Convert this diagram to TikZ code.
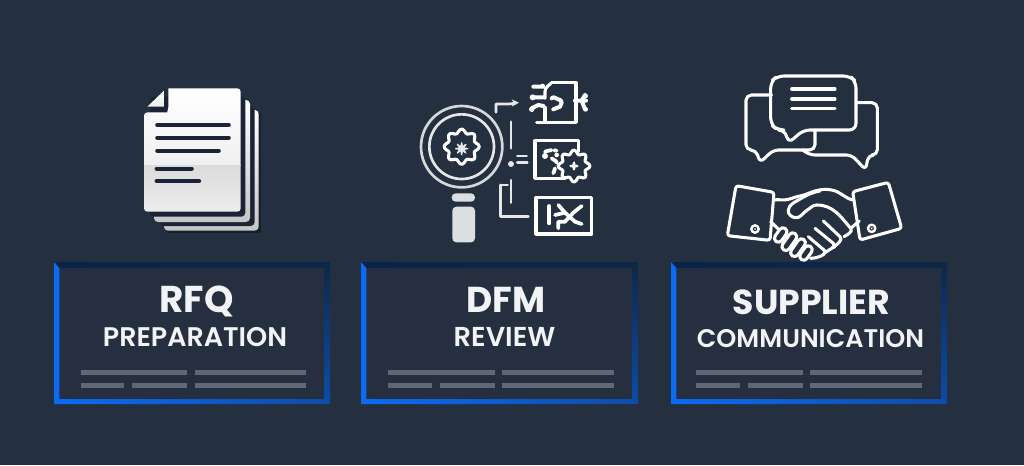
\documentclass[tikz,border=0pt]{standalone}
\usepackage{fontspec}
\setmainfont{Poppins}
\newfontfamily\headfont{Poppins Bold}
\newfontfamily\subfont{Poppins SemiBold}
\definecolor{bgc}{HTML}{24303F}
\definecolor{cardc}{HTML}{252F3F}
\definecolor{inkc}{HTML}{1A2436}
\definecolor{linec}{HTML}{5F6875}
\definecolor{whitec}{HTML}{F2F3F5}
\definecolor{iconc}{HTML}{E4E6E8}
\definecolor{blueA}{HTML}{0B6BF5}
\definecolor{blueB}{HTML}{0E4CA8}
\definecolor{navyA}{HTML}{0A2348}
\definecolor{navyB}{HTML}{0F2747}
\tikzset{
 head/.style={font=\headfont\fontsize{#1}{#1}\selectfont,text=whitec,anchor=base,inner sep=0pt},
 sub/.style={font=\subfont\fontsize{#1}{#1}\selectfont,text=whitec,anchor=base,inner sep=0pt},
 barline/.style={fill=linec,draw=none},
 stroke/.style={draw=white,line width=2.3pt,line join=round,line cap=round},
 thin stroke/.style={draw=iconc,line width=2pt,line join=round,line cap=round},
 ink/.style={draw=inkc,line width=3.2pt,line cap=round},
 zoomed/.style={x=0.25pt,y=-0.25pt}
}
% #1 left, #2 right, #3 first bar x
\newcommand{\cardbox}[3]{%
 \pgfmathsetmacro{\xl}{#1}\pgfmathsetmacro{\xr}{#2}%
 \pgfmathsetmacro{\xli}{#1+5.3}\pgfmathsetmacro{\xri}{#2-6}%
 \fill[cardc] (\xl,262) rectangle (\xr,404);
 \shade[left color=navyA,right color=navyB] (\xl,262) -- (\xr,262) -- (\xri,268) -- (\xli,268) -- cycle;
 \shade[top color=navyB,middle color=navyB!75!blueB,bottom color=blueB] (\xr,262) -- (\xr,404) -- (\xri,399) -- (\xri,268) -- cycle;
 \shade[left color=blueA,right color=blueB] (\xl,404) -- (\xr,404) -- (\xri,399) -- (\xli,399) -- cycle;
 \fill[blueA] (\xl,262) -- (\xli,268) -- (\xli,399) -- (\xl,404) -- cycle;
 \pgfmathsetmacro{\ba}{#3}\pgfmathsetmacro{\bb}{#3+106.5}\pgfmathsetmacro{\bc}{#3+114}\pgfmathsetmacro{\bd}{#3+225.5}%
 \pgfmathsetmacro{\be}{#3+43.5}\pgfmathsetmacro{\bf}{#3+51.5}%
 \fill[barline] (\ba,369.5) rectangle (\bb,374.5);
 \fill[barline] (\bc,369.5) rectangle (\bd,374.5);
 \fill[barline] (\ba,382.5) rectangle (\be,387.5);
 \fill[barline] (\bf,382.5) rectangle (\bb,387.5);
 \fill[barline] (\bc,382.5) rectangle (\bd,387.5);
}
\begin{document}
\begin{tikzpicture}[x=0.75pt,y=-0.75pt]
\useasboundingbox (0,0) rectangle (1024,465);
\fill[bgc] (0,0) rectangle (1024,465);

% cards
\cardbox{54}{330}{80.5}
\cardbox{361}{638}{388}
\cardbox{671}{947}{696}
\node[head=28] (rfq) at (196.5,312) {RFQ};
\node[sub=20.2] (prep) at (195,346.5) {PREPARATION};
\node[head=27] (dfm) at (506,312) {DFM};
\node[sub=20.5] (rev) at (504.5,346.5) {REVIEW};
\node[head=26] (sup) at (811.5,314) {SUPPLIER};
\node[sub=19.1] (com) at (810.5,347) {COMMUNICATION};

% ---- document icon
\begin{scope}[shift={(120,70)},zoomed]
 \fill[black!40!inkc,opacity=.6] (140,130) rectangle (424,490);
 \shade[top color=white,bottom color=gray!45!white,rounded corners=3pt] (132,120) rectangle (416,482);
 \fill[inkc,rounded corners=3pt] (120,110) rectangle (404,468);
 \shade[top color=white,bottom color=gray!45!white,rounded corners=3pt] (102,90) rectangle (390,456);
 \fill[inkc,rounded corners=3pt] (90,80) rectangle (376,440);
 \begin{scope}
  \clip[rounded corners=2.5pt] (145,55) -- (362,55) -- (362,425) -- (72,425) -- (72,127) -- (132,127) [sharp corners] to[out=0,in=-90] (145,112) -- cycle;
  \shade[top color=white,bottom color=white!88!gray] (60,50) rectangle (370,285);
  \shade[top color=white!72!gray,bottom color=white!86!gray] (60,285) rectangle (370,430);
 \end{scope}
 \shade[top color=white,bottom color=white!85!gray] (82,110) -- (132,62) -- (132,110) -- cycle;
 \foreach \a/\b/\c in {112/326/165,112/326/203,112/296/242,110/215/296,110/237/333}
   \draw[ink] (\a,\c) -- (\b,\c);
\end{scope}

% ---- magnifier and diagrams
\begin{scope}[shift={(410,80)},zoomed]
 \draw[thin stroke,draw=iconc!85!gray] (155,200) circle[radius=122];
 \draw[thin stroke,draw=iconc] (155,200) circle[radius=97];
 \draw[stroke] plot[smooth cycle,samples=49,domain=0:352.5,variable=\t] ({155+(47+6*cos(8*\t))*cos(\t)},{200+(47+6*cos(8*\t))*sin(\t)});
 \fill[iconc] plot[samples=33,domain=0:348.75,variable=\t] ({155+(15+6*cos(8*\t))*cos(\t)},{206+(15+6*cos(8*\t))*sin(\t)}) -- cycle;
 \fill[iconc!92!gray,rounded corners=3pt] (125,340) rectangle (195,365);
 \fill[iconc!92!gray,rounded corners=3pt] (127,380) rectangle (195,487);
 % connectors
 \draw[thin stroke] (258,97) -- (258,72) -- (295,72) to[bend left=8] (315,70);
 \fill[iconc] (305,58) -- (327,68) -- (305,80) -- (311,68) -- cycle;
 \draw[thin stroke] (303,125) -- (303,205);
 \fill[iconc] (303,252) circle[radius=9];
 \draw[thin stroke] (322,228) -- (350,228);
 \draw[thin stroke] (322,247) -- (352,247);
 \draw[thin stroke] (303,300) -- (303,368);
 \draw[thin stroke] (272,315) -- (293,315);
 \draw[thin stroke] (272,315) -- (272,410) -- (355,410);
 % chip
 \draw[stroke] (425,8) -- (498,8) -- (498,127) -- (380,127);
 \draw[stroke] (405,127) -- (405,82);
 \draw[stroke] (405,55) -- (405,35) to[out=90,in=-135] (425,8);
 \draw[stroke,line width=3pt] (370,20) -- (400,20) (372,52) -- (400,52) (365,85) -- (385,75) -- (400,78);
 \fill[white] (368,52) circle[radius=9] (365,88) circle[radius=8] (398,18) circle[radius=7];
 \draw[stroke,line width=3pt] (425,55) to[out=60,in=170] (450,60) to[out=-20,in=45] (450,80) -- (430,88);
 \draw[stroke,line width=3pt] (495,62) -- (528,62) (515,62) -- (525,45) (515,62) -- (525,88);
 \fill[white] (527,48) circle[radius=7] (527,88) circle[radius=7];
 % board with gear
 \draw[stroke] (460,182) -- (375,182) -- (375,295) -- (465,295);
 \draw[stroke] (460,182) -- (505,182) -- (505,215);
 \draw[stroke,line width=2.8pt,dash pattern=on 5pt off 2pt] (405,215) to[bend left=15] (440,212) (425,235) to[bend left=20] (445,255) (435,265) -- (430,280);
 \fill[white] (405,228) circle[radius=9] (440,225) circle[radius=7];
 \draw[stroke,fill=bgc] plot[smooth cycle,samples=49,domain=0:352.5,variable=\t] ({492+(42+6*cos(8*\t))*cos(\t)},{258+(42+6*cos(8*\t))*sin(\t)});
 \fill[white] plot[samples=17,domain=0:337.5,variable=\t] ({492+(10+4*cos(4*\t))*cos(\t)},{258+(10+4*cos(4*\t))*sin(\t)}) -- cycle;
 % circuit
 \draw[stroke] (378,352) rectangle (545,462);
 \draw[stroke,line width=2.8pt] (418,378) -- (418,430);
 \draw[stroke,line width=2.8pt] (445,375) -- (465,398) -- (495,425) -- (515,432);
 \draw[stroke,line width=2.8pt] (435,405) -- (465,398);
 \draw[stroke,line width=2.8pt] (515,378) -- (490,398) -- (465,425) -- (445,425) -- (445,445);
\end{scope}

% ---- speech bubbles
\begin{scope}[shift={(720,65)},zoomed]
 \draw[stroke,rounded corners=4pt] (155,90) -- (78,90) -- (78,255) -- (108,255) -- (120,293) -- (160,255) -- (285,255) -- (285,197);
 \draw[stroke,rounded corners=4pt] (408,113) -- (472,113) -- (472,270) -- (445,270) -- (437,315) -- (395,270) -- (270,270) -- (248,255);
 \draw[stroke,rounded corners=5pt] (172,33) -- (390,33) -- (408,50) -- (408,195) -- (250,195) -- (205,235) -- (195,195) -- (172,195) -- (152,178) -- (152,50) -- cycle;
 \foreach \c in {72,102,130} \draw[stroke] (215,\c) -- (345,\c);
 % handshake
 \draw[stroke,rounded corners=2pt] (48,362) -- (162,382) -- (150,526) -- (22,512) -- cycle;
 \draw[stroke,rounded corners=2pt] (398,380) -- (505,352) -- (545,490) -- (420,525) -- cycle;
 \draw[stroke,line width=1.8pt] (105,492) circle[radius=11];
 \fill[white] (105,492) circle[radius=3];
 \draw[stroke,line width=1.8pt] (455,490) circle[radius=11];
 \fill[white] (455,490) circle[radius=3];
 \draw[stroke] (160,405) to[out=10,in=195] (205,403) to[out=15,in=190] (240,393) to[out=10,in=195] (285,378) to[out=15,in=170] (335,375) to[out=-10,in=165] (398,405);
 \draw[stroke] (300,378) to[out=190,in=30] (235,405) to[out=210,in=80] (205,435) to[out=-100,in=170] (225,458) to[out=-10,in=210] (262,435) to[out=30,in=180] (290,420) to[out=0,in=130] (392,490);
 \draw[stroke] (392,490) -- (418,468);
 \draw[stroke] (392,490) to[out=-50,in=30] (372,515);
 \draw[stroke] (310,468) -- (360,515) to[out=-45,in=45] (340,548);
 \draw[stroke] (285,490) -- (340,535) to[out=-40,in=40] (312,565);
 \draw[stroke] (265,515) -- (312,555) to[out=-45,in=0] (272,580);
 \draw[stroke] (152,470) -- (175,492);
 \foreach \cx/\cy/\hl in {182/510/24,208/530/30,234/548/30,258/564/24}
  \draw[stroke,fill=bgc,rounded corners=3pt,shift={(\cx,\cy)},rotate=55] (-\hl,-12) rectangle (\hl,12);
\end{scope}
\end{tikzpicture}
\end{document}
